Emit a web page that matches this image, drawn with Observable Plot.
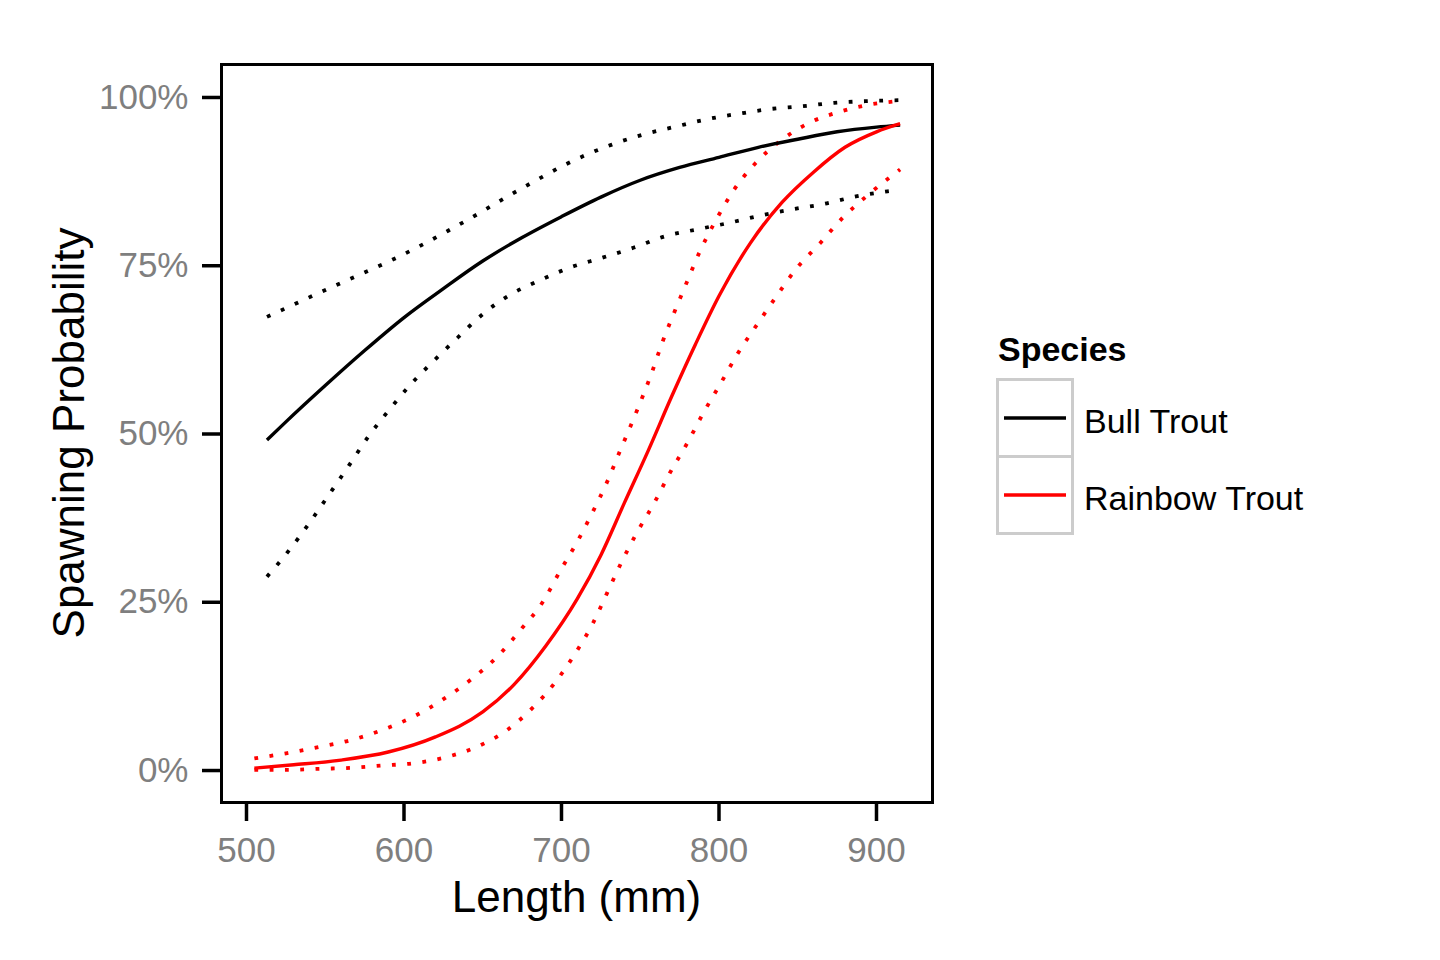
<!DOCTYPE html>
<html>
<head>
<meta charset="utf-8">
<script src="https://cdn.jsdelivr.net/npm/d3@7"></script>
<script src="https://cdn.jsdelivr.net/npm/@observablehq/plot@0.6"></script>
<style>
  body { margin: 0; background: #ffffff; }
  #chart { width: 1440px; height: 960px; }
  #chart svg { font-family: "Liberation Sans", Arial, sans-serif; }
</style>
</head>
<body>
<div id="chart"></div>
<script>
// ---- Data ----
const species = ["Bull Trout", "Rainbow Trout"];
const speciesColors = ["#000000", "#ff0000"];
const xTicks = [500, 600, 700, 800, 900];
const yTicks = [0, 25, 50, 75, 100];

// Bull Trout: fitted probability (%) and confidence bounds
const bullFitLength = [513, 525, 550, 575, 600, 625, 650, 675, 700, 725, 750, 775, 800, 825, 850, 875, 900, 915];
const bullFitP      = [49.1, 51.8, 57.2, 62.4, 67.3, 71.6, 75.7, 79.2, 82.3, 85.2, 87.7, 89.6, 91.1, 92.6, 93.8, 94.9, 95.6, 95.9];
const bullUpperLength = [513, 552, 571, 590, 609, 628, 647, 665, 684, 703, 732, 752, 773, 793, 813, 833, 853, 873, 893, 915];
const bullUpperP      = [67.4, 71.6, 73.6, 75.6, 77.8, 80.2, 82.7, 85.2, 87.7, 90.1, 93.0, 94.5, 95.7, 96.8, 97.6, 98.3, 98.7, 99.2, 99.45, 99.6];
const bullLowerLength = [513, 527, 540, 553, 565, 577, 591, 604, 619, 634, 649, 666, 685, 705, 726, 746, 766, 786, 806, 827, 847, 867, 887, 907, 915];
const bullLowerP      = [28.8, 32.7, 36.8, 41.2, 45.3, 49.5, 53.7, 57.3, 60.9, 64.3, 67.6, 70.5, 72.7, 74.7, 76.2, 77.7, 79.4, 80.4, 81.35, 82.5, 83.4, 84.2, 85.3, 86.05, 86.3];

// Rainbow Trout: fitted probability (%) and confidence bounds
const rainbowFitLength = [505, 530, 560, 590, 620, 650, 670, 690, 710, 725, 740, 755, 770, 785, 800, 820, 840, 860, 880, 900, 915];
const rainbowFitP      = [0.35, 0.85, 1.55, 2.75, 5.0, 8.7, 12.8, 18.5, 25.5, 32.0, 39.8, 47.5, 55.6, 63.3, 70.5, 78.4, 84.4, 88.9, 92.6, 94.9, 96.1];
const rainbowUpperLength = [505, 526, 546, 566, 587, 606, 625, 643, 660, 674, 688, 699, 710, 720, 729, 737, 749, 757, 764, 772, 780, 788, 798, 809, 823, 839, 857, 877, 897, 907, 915];
const rainbowUpperP      = [1.8, 2.6, 3.5, 4.5, 6.1, 8.0, 10.6, 13.6, 17.1, 20.9, 25.0, 29.6, 34.0, 38.5, 42.9, 47.4, 54.1, 58.9, 63.6, 68.3, 72.8, 77.2, 81.75, 86.1, 90.2, 93.55, 96.2, 97.9, 99.0, 99.3, 99.5];
const rainbowLowerLength = [505, 525, 546, 566, 586, 607, 627, 647, 666, 682, 696, 709, 720, 729, 738, 748, 759, 769, 780, 790, 801, 812, 824, 836, 849, 864, 878, 894, 911, 915];
const rainbowLowerP      = [0.1, 0.1, 0.25, 0.4, 0.74, 1.1, 2.0, 3.6, 6.1, 9.4, 13.1, 17.5, 21.9, 26.4, 30.9, 35.4, 39.8, 44.3, 48.7, 53.1, 57.5, 62.0, 66.2, 70.3, 74.55, 78.3, 82.0, 85.4, 88.6, 89.3];

// ---- Build tidy rows ----
function rows(sp, band, lengths, ps) {
  return lengths.map((L, i) => ({species: sp, band, key: sp + "-" + band, length: L, p: ps[i]}));
}
const fitRows = [
  ...rows("Bull Trout", "fit", bullFitLength, bullFitP),
  ...rows("Rainbow Trout", "fit", rainbowFitLength, rainbowFitP)
];
const ciRows = [
  ...rows("Bull Trout", "upper", bullUpperLength, bullUpperP),
  ...rows("Bull Trout", "lower", bullLowerLength, bullLowerP),
  ...rows("Rainbow Trout", "upper", rainbowUpperLength, rainbowUpperP),
  ...rows("Rainbow Trout", "lower", rainbowLowerLength, rainbowLowerP)
];

const W = 1440, H = 960;
const mL = 221, mR = 508, mT = 64, mB = 158;

const chart = Plot.plot({
  width: W,
  height: H,
  marginLeft: mL,
  marginRight: mR,
  marginTop: mT,
  marginBottom: mB,
  style: {fontFamily: "'Liberation Sans', Arial, sans-serif", background: "#ffffff"},
  x: {domain: [484.13, 935.56]},
  y: {domain: [-4.75, 104.9]},
  color: {domain: species, range: speciesColors},
  marks: [
    Plot.line(ciRows, {x: "length", y: "p", z: "key", stroke: "species", strokeWidth: 3.8,
      strokeDasharray: "3.8,11.5", strokeLinecap: "butt", curve: "monotone-x"}),
    Plot.line(fitRows, {x: "length", y: "p", z: "species", stroke: "species", strokeWidth: 3.4,
      strokeLinecap: "butt", curve: "monotone-x"}),
    Plot.frame({stroke: "#000000", strokeWidth: 3}),
    Plot.axisX({ticks: xTicks, tickSize: 19, tickPadding: 16, strokeWidth: 3.5, stroke: "#000000",
      fill: "#7f7f7f", fontSize: 35, label: null, tickFormat: d => String(d)}),
    Plot.axisY({ticks: yTicks, tickSize: 19, tickPadding: 14, strokeWidth: 3.5, stroke: "#000000",
      fill: "#7f7f7f", fontSize: 35, label: null, tickFormat: d => d + "%"})
  ]
});

document.getElementById("chart").appendChild(chart);

// ---- Axis titles and legend ----
const svg = d3.select(chart);
const font = "'Liberation Sans', Arial, sans-serif";

svg.append("text")
  .attr("x", (mL + (W - mR)) / 2)
  .attr("y", 912)
  .attr("text-anchor", "middle")
  .attr("font-family", font)
  .attr("font-size", 44)
  .attr("fill", "#000000")
  .text("Length (mm)");

svg.append("text")
  .attr("transform", `translate(84, ${(mT + (H - mB)) / 2}) rotate(-90)`)
  .attr("text-anchor", "middle")
  .attr("font-family", font)
  .attr("font-size", 44)
  .attr("fill", "#000000")
  .text("Spawning Probability");

const legend = svg.append("g").attr("font-family", font).attr("text-anchor", "start");
legend.append("text")
  .attr("x", 998).attr("y", 361)
  .attr("text-anchor", "start")
  .attr("font-size", 34).attr("font-weight", "bold").attr("fill", "#000000")
  .text("Species");

species.forEach((sp, i) => {
  const top = 379.5 + i * 77;
  legend.append("rect")
    .attr("x", 997.5).attr("y", top).attr("width", 75).attr("height", 77)
    .attr("fill", "none").attr("stroke", "#cccccc").attr("stroke-width", 3);
  legend.append("line")
    .attr("x1", 1004).attr("x2", 1066)
    .attr("y1", top + 38.5).attr("y2", top + 38.5)
    .attr("stroke", speciesColors[i]).attr("stroke-width", 3.4);
  legend.append("text")
    .attr("x", 1084).attr("y", top + 53)
    .attr("text-anchor", "start")
    .attr("font-size", 34).attr("fill", "#000000")
    .text(sp);
});
</script>
</body>
</html>
